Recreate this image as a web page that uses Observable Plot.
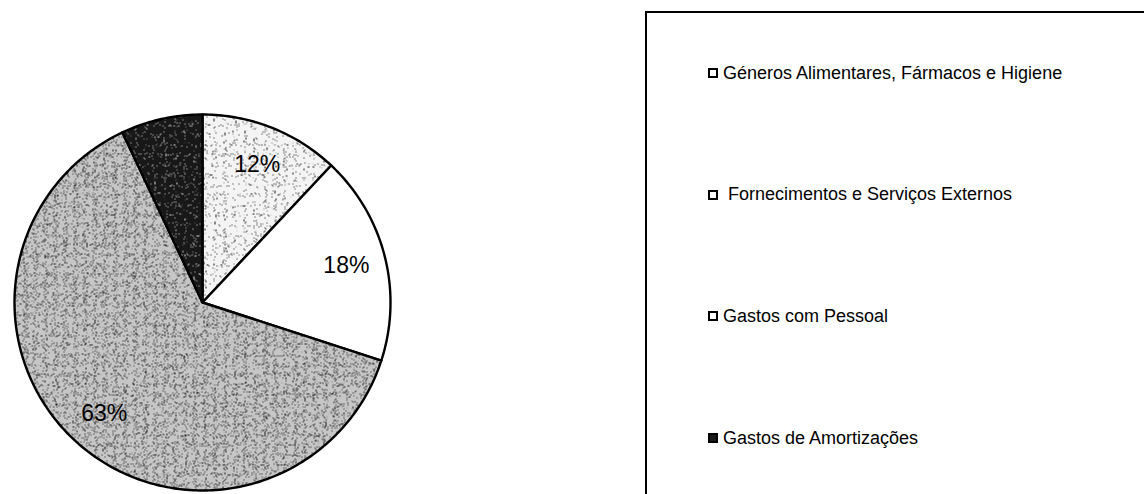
<!DOCTYPE html>
<html>
<head>
<meta charset="utf-8">
<script src="https://cdn.jsdelivr.net/npm/d3@7"></script>
<script src="https://cdn.jsdelivr.net/npm/@observablehq/plot@0.6"></script>
<style>
  html, body { margin: 0; padding: 0; background: #fff; overflow: hidden; }
  #wrap { position: relative; width: 1144px; height: 494px; overflow: hidden; font-family: "Liberation Sans", Arial, sans-serif; }
  #chart { position: absolute; left: 0; top: 0; }
  #legendBox { position: absolute; left: 645px; top: 11px; width: 700px; height: 700px;
    border-left: 2px solid #000; border-top: 2px solid #000; }
  .item { position: absolute; left: 708px; height: 20px; display: flex; align-items: center;
    font-size: 18px; color: #000; white-space: pre; }
  .item svg { display: block; margin-right: 5px; }
</style>
</head>
<body>
<svg width="0" height="0" style="position:absolute">
  <defs>
    <filter id="fLight" x="0" y="0" width="1" height="1" color-interpolation-filters="sRGB">
      <feTurbulence type="fractalNoise" baseFrequency="0.9" numOctaves="1" seed="4" result="n"/>
      <feColorMatrix in="n" type="matrix" values="0 0 0 0 0.1  0 0 0 0 0.1  0 0 0 0 0.1  40 0 0 0 -26.3" result="dots"/>
      <feFlood flood-color="#f4f4f4" result="bg"/>
      <feComposite in="dots" in2="bg" operator="over"/>
    </filter>
    <filter id="fMid" x="0" y="0" width="1" height="1" color-interpolation-filters="sRGB">
      <feTurbulence type="fractalNoise" baseFrequency="0.9" numOctaves="1" seed="9" result="n"/>
      <feColorMatrix in="n" type="matrix" values="0 0 0 0 0.1  0 0 0 0 0.1  0 0 0 0 0.1  40 0 0 0 -24.3" result="dots"/>
      <feFlood flood-color="#c6c6c6" result="bg"/>
      <feComposite in="dots" in2="bg" operator="over"/>
    </filter>
    <filter id="fDark" x="0" y="0" width="1" height="1" color-interpolation-filters="sRGB">
      <feTurbulence type="fractalNoise" baseFrequency="0.9" numOctaves="1" seed="13" result="n"/>
      <feColorMatrix in="n" type="matrix" values="0 0 0 0 0.85  0 0 0 0 0.85  0 0 0 0 0.85  40 0 0 0 -26.5" result="dots"/>
      <feFlood flood-color="#181818" result="bg"/>
      <feComposite in="dots" in2="bg" operator="over"/>
    </filter>
    <pattern id="pLight" patternUnits="userSpaceOnUse" width="600" height="600">
      <rect width="600" height="600" filter="url(#fLight)"/>
    </pattern>
    <pattern id="pMid" patternUnits="userSpaceOnUse" width="600" height="600">
      <rect width="600" height="600" filter="url(#fMid)"/>
    </pattern>
    <pattern id="pDark" patternUnits="userSpaceOnUse" width="600" height="600">
      <rect width="600" height="600" filter="url(#fDark)"/>
    </pattern>
  </defs>
</svg>
<div id="wrap">
  <div id="chart"></div>
  <div id="legendBox"></div>
</div>
<script>
// ---- data ----
const categories = [
  "Géneros Alimentares, Fármacos e Higiene",
  "Fornecimentos e Serviços Externos",
  "Gastos com Pessoal",
  "Gastos de Amortizações"
];
const shares = [12, 18, 63, 7];
const labels = ["12%", "18%", "63%", ""];

// ---- styles ----
const fills = ["url(#pLight)", "#ffffff", "url(#pMid)", "url(#pDark)"];
const legendFills = ["#ffffff", "#ffffff", "#ffffff", "#1a1a1a"];
const labelRadius = 0.79;

// ---- geometry derived from data ----
const arcs = d3.pie().sort(null).value(d => d)(shares);
const slices = arcs.map((a, i) => {
  const pts = [{x: 0, y: 0}];
  const n = Math.max(2, Math.ceil((a.endAngle - a.startAngle) / (Math.PI / 180)));
  for (let k = 0; k <= n; k++) {
    const t = a.startAngle + (a.endAngle - a.startAngle) * k / n;
    pts.push({x: Math.sin(t), y: Math.cos(t)});
  }
  pts.push({x: 0, y: 0});
  return pts;
});
const labelData = arcs.map((a, i) => {
  const m = (a.startAngle + a.endAngle) / 2;
  return {x: labelRadius * Math.sin(m), y: labelRadius * Math.cos(m), text: labels[i]};
}).filter(d => d.text);

const chart = Plot.plot({
  width: 1144,
  height: 494,
  margin: 0,
  style: {background: "transparent", overflow: "visible"},
  x: {domain: [-1, 1], range: [14, 390], axis: null},
  y: {domain: [-1, 1], range: [490, 114], axis: null},
  marks: [
    ...slices.map((pts, i) => Plot.line(pts, {
      x: "x", y: "y", fill: fills[i], stroke: "#000", strokeWidth: 2.4, strokeLinejoin: "round"
    })),
    Plot.text(labelData, {
      x: "x", y: "y", text: "text", fontSize: 23, fill: "#000",
      fontFamily: "Liberation Sans, Arial, sans-serif"
    })
  ]
});
document.getElementById("chart").appendChild(chart);

// ---- legend (HTML) ----
const wrap = document.getElementById("wrap");
categories.forEach((c, i) => {
  const div = document.createElement("div");
  div.className = "item";
  div.style.top = (63 + i * 121.7) + "px";
  div.innerHTML = `<svg width="10" height="10"><rect x="1" y="1" width="8" height="8" fill="${legendFills[i]}" stroke="#000" stroke-width="2"/></svg>`;
  const span = document.createElement("span");
  span.textContent = (i === 1 ? " " : "") + c;
  div.appendChild(span);
  wrap.appendChild(div);
});
</script>
</body>
</html>
